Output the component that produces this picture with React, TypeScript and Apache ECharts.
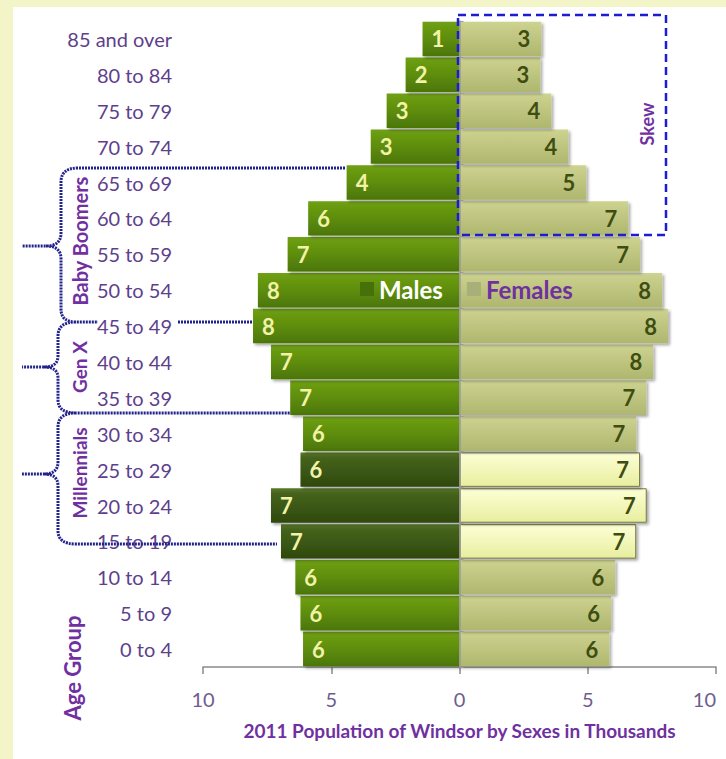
import React, { useEffect, useRef } from 'react';
import * as echarts from 'echarts';

const categories = [
  '0 to 4', '5 to 9', '10 to 14', '15 to 19', '20 to 24', '25 to 29', '30 to 34', '35 to 39', '40 to 44',
  '45 to 49', '50 to 54', '55 to 59', '60 to 64', '65 to 69', '70 to 74', '75 to 79', '80 to 84', '85 and over',
];
const males = [6.1, 6.2, 6.4, 6.96, 7.35, 6.2, 6.1, 6.6, 7.35, 8.05, 7.86, 6.7, 5.9, 4.4, 3.46, 2.84, 2.1, 1.44];
const females = [5.84, 5.91, 6.07, 6.89, 7.3, 7.04, 6.89, 7.28, 7.55, 8.13, 7.9, 7.04, 6.58, 4.94, 4.24, 3.58, 3.15, 3.19];
const highlighted = ['15 to 19', '20 to 24', '25 to 29'];
const xMin = -10;
const xMax = 10;
const xInterval = 5;

const BRACE_PATH =
  'M 345 168 L 78 168 Q 61 168 61 182 L 61 233 Q 61 246 46 246 L 22 246 M 46 246 Q 61 246 61 259 L 61 309 Q 61 322 76 322 L 98 322 ' +
  'M 178 322 L 253 322 ' +
  'M 76 322 Q 58 322 58 336 L 58 356 Q 58 367 44 367 L 22 367 M 44 367 Q 58 367 58 378 L 58 400 Q 58 413 76 413 L 290 413 ' +
  'M 76 413 Q 58 413 58 427 L 58 462 Q 58 474 44 474 L 22 474 M 44 474 Q 58 474 58 486 L 58 531 Q 58 544 76 544 L 277 544';

const PURPLE = '#7030A0';
const FONT = 'Lato';

export default function App() {
  const ref = useRef<HTMLDivElement>(null);
  useEffect(() => {
    document.body.style.margin = '0';
    echarts.graphic.registerShape('braces', echarts.graphic.extendPath(BRACE_PATH, {}));
    const chart = echarts.init(ref.current!, null, { renderer: 'svg' });

    const grad = (stops: [number, string][]) =>
      new echarts.graphic.LinearGradient(0, 0, 0, 1, stops.map(([offset, color]) => ({ offset, color })));

    const maleNormal = grad([[0, '#6FA014'], [0.5, '#5E8D0B'], [1, '#4B7606']]);
    const maleHi = grad([[0, '#5A7A2C'], [0.15, '#45631B'], [1, '#2E490D']]);
    const femNormal = grad([[0, '#CDD390'], [1, '#AFB66E']]);
    const femHi = grad([[0, '#FDFFD6'], [1, '#E8EE9E']]);

    const shadow = { shadowColor: 'rgba(0,0,0,0.35)', shadowBlur: 3, shadowOffsetX: 2, shadowOffsetY: 2 };

    chart.setOption({
      animation: false,
      backgroundColor: '#F3F5C8',
      textStyle: { fontFamily: FONT },
      grid: { left: 203, right: 10, top: 21, bottom: 92, outerBoundsMode: 'none' },
      legend: {
        left: 355,
        top: 272,
        itemWidth: 14,
        itemHeight: 14,
        itemGap: 24,
        icon: 'rect',
        textStyle: { fontSize: 24, fontWeight: 'bold', fontFamily: FONT },
        data: [
          { name: 'Males', itemStyle: { color: '#46700A' }, textStyle: { color: '#FFFFFF' } },
          { name: 'Females', itemStyle: { color: '#A9AF78' }, textStyle: { color: PURPLE } },
        ],
      },
      xAxis: {
        type: 'value',
        min: xMin,
        max: xMax,
        interval: xInterval,
        axisLine: { show: true, onZero: false, lineStyle: { color: '#8A8A8A', width: 1.5 } },
        axisTick: { show: true, length: 7, lineStyle: { color: '#8A8A8A', width: 1.5 } },
        splitLine: { show: false },
        axisLabel: {
          formatter: (v: number) => String(Math.abs(v)),
          color: '#6F5C8F',
          fontSize: 20,
          margin: 22,
          fontFamily: FONT,
          alignMaxLabel: 'right',
        },
        name: '2011 Population of Windsor by Sexes in Thousands',
        nameLocation: 'middle',
        nameGap: 54,
        nameTextStyle: { color: PURPLE, fontWeight: 'bold', fontSize: 19, fontFamily: FONT },
      },
      yAxis: [
        {
          type: 'category',
          data: categories,
          axisLine: { show: false, onZero: false },
          axisTick: { show: false },
          axisLabel: { color: '#5E3F8C', fontSize: 20, margin: 31, fontFamily: FONT },
        },
        {
          type: 'category',
          data: categories,
          position: 'left',
          z: 5,
          axisLine: { show: true, onZero: true, lineStyle: { color: '#9A9A9A', width: 1.5 } },
          axisTick: { show: true, inside: true, length: 4, lineStyle: { color: '#9A9A9A' } },
          axisLabel: { show: false },
        },
      ],
      series: [
        {
          name: 'Males',
          type: 'bar',
          yAxisIndex: 0,
          barCategoryGap: '4%',
          barGap: '-100%',
          itemStyle: { color: maleNormal, ...shadow },
          label: {
            show: true,
            position: 'insideLeft',
            distance: 9,
            formatter: (p: any) => String(Math.round(Math.abs(p.value))),
            color: '#F2F3A8',
            fontSize: 22,
            fontWeight: 'bold',
            fontFamily: FONT,
          },
          data: males.map((v, i) => ({
            value: -v,
            itemStyle: highlighted.includes(categories[i]) ? { color: maleHi } : undefined,
          })),
        },
        {
          name: 'Females',
          type: 'bar',
          yAxisIndex: 0,
          barCategoryGap: '4%',
          barGap: '-100%',
          itemStyle: { color: femNormal, ...shadow },
          label: {
            show: true,
            position: 'insideRight',
            distance: 11,
            formatter: (p: any) => String(Math.round(Math.abs(p.value))),
            color: '#3E4D10',
            fontSize: 22,
            fontWeight: 'bold',
            fontFamily: FONT,
          },
          data: females.map((v, i) => ({
            value: v,
            itemStyle: highlighted.includes(categories[i])
              ? { color: femHi, borderColor: '#767A44', borderWidth: 1 }
              : undefined,
          })),
        },
      ],
      graphic: [
        { type: 'rect', z: -100, silent: true, shape: { x: 13, y: 7, width: 713, height: 752 }, style: { fill: '#FFFFFF' } },
        { type: 'braces', z: 100, silent: true, x: 0, y: 0, style: { stroke: '#22228C', lineWidth: 3, lineDash: [2, 1], fill: 'none' } },
        {
          type: 'rect', z: 100, silent: true,
          shape: { x: 458, y: 15, width: 208, height: 220 },
          style: { fill: 'none', stroke: '#1C1CD2', lineWidth: 2.5, lineDash: [8, 5] },
        },
        {
          type: 'text', z: 100, x: 80, y: 241, rotation: Math.PI / 2,
          style: { text: 'Baby Boomers', fill: PURPLE, fontSize: 20, fontWeight: 'bold', fontFamily: FONT, align: 'center', verticalAlign: 'middle' },
        },
        {
          type: 'text', z: 100, x: 79, y: 367, rotation: Math.PI / 2,
          style: { text: 'Gen X', fill: PURPLE, fontSize: 19, fontWeight: 'bold', fontFamily: FONT, align: 'center', verticalAlign: 'middle' },
        },
        {
          type: 'text', z: 100, x: 79, y: 473, rotation: Math.PI / 2,
          style: { text: 'Millennials', fill: PURPLE, fontSize: 19, fontWeight: 'bold', fontFamily: FONT, align: 'center', verticalAlign: 'middle' },
        },
        {
          type: 'text', z: 100, x: 72, y: 668, rotation: Math.PI / 2,
          style: { text: 'Age Group', fill: PURPLE, fontSize: 22, fontWeight: 'bold', fontFamily: FONT, align: 'center', verticalAlign: 'middle' },
        },
        {
          type: 'text', z: 100, x: 647, y: 124, rotation: Math.PI / 2,
          style: { text: 'Skew', fill: PURPLE, fontSize: 18, fontWeight: 'bold', fontFamily: FONT, align: 'center', verticalAlign: 'middle' },
        },
      ],
    });
    return () => chart.dispose();
  }, []);
  return <div ref={ref} style={{ width: 726, height: 759 }} />;
}
